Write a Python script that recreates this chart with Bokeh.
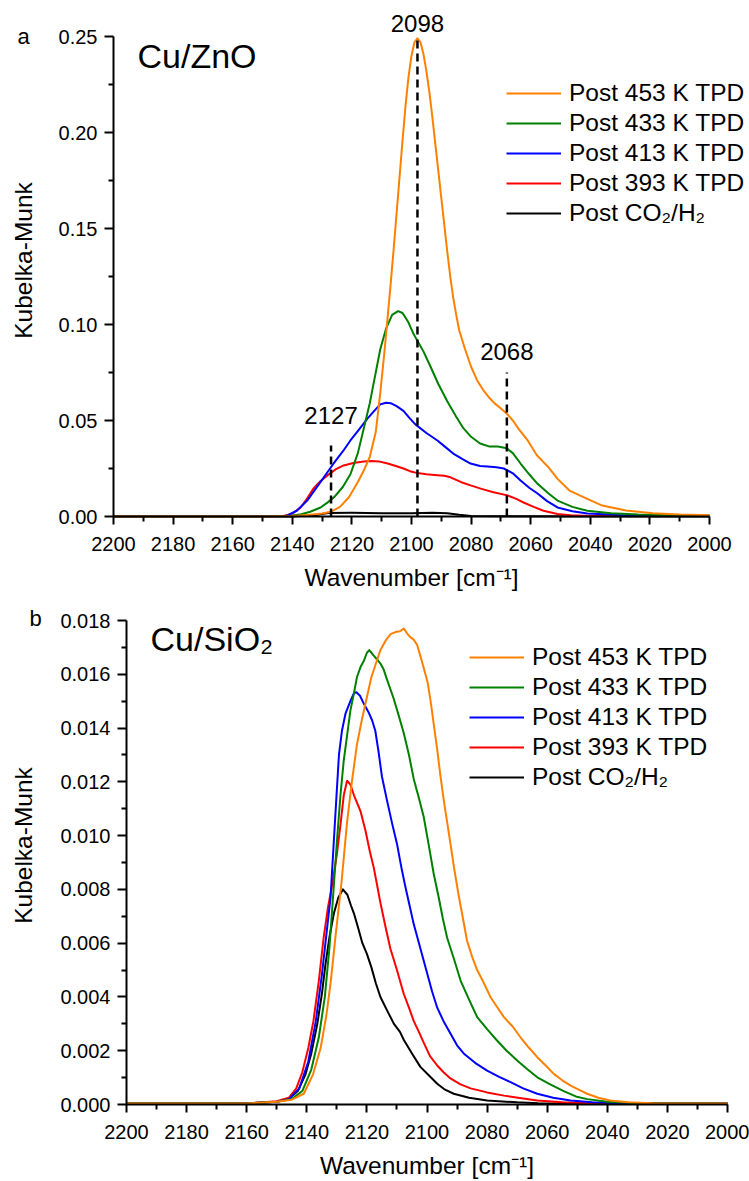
import math

from bokeh.plotting import figure
from bokeh.layouts import column
from bokeh.models import (Range1d, FixedTicker, NumeralTickFormatter, Legend,
                          LegendItem, Label)
from bokeh.embed import file_html
from bokeh.resources import INLINE

FONT = "Liberation Sans"

# ---- axis ticks -------------------------------------------------------------
x_major_ticks = [2200, 2180, 2160, 2140, 2120, 2100, 2080, 2060, 2040, 2020, 2000]
x_minor_ticks = [2190, 2170, 2150, 2130, 2110, 2090, 2070, 2050, 2030, 2010]
a_y_ticks = [0.00, 0.05, 0.10, 0.15, 0.20, 0.25]
a_y_minor = [0.025, 0.075, 0.125, 0.175, 0.225]
b_y_ticks = [0.000, 0.002, 0.004, 0.006, 0.008, 0.010, 0.012, 0.014, 0.016, 0.018]
b_y_minor = [0.001, 0.003, 0.005, 0.007, 0.009, 0.011, 0.013, 0.015, 0.017]

series_labels = ["Post 453 K TPD", "Post 433 K TPD", "Post 413 K TPD",
                 "Post 393 K TPD", "Post CO\u2082/H\u2082"]
series_colors = ["#FF8000", "#008000", "#0000FF", "#FF0000", "#000000"]

# ---- (a) Cu/ZnO spectra -------------------------------------------------------
a453_w = [2200, 2150, 2140, 2135, 2130, 2127, 2124, 2121, 2118, 2116, 2114, 2112,
          2110.5, 2109, 2108, 2107, 2106, 2105, 2104, 2103, 2102, 2101, 2100, 2099,
          2098, 2097, 2096, 2095, 2094, 2093, 2092, 2091, 2090, 2089, 2088, 2087,
          2086, 2085, 2084, 2082, 2080, 2078, 2076, 2074, 2072, 2070, 2068, 2066,
          2064, 2061, 2058, 2054, 2051, 2047, 2041, 2036, 2028, 2019, 2010, 2000]
a453_v = [0, 0, 0.0003, 0.0008, 0.0016, 0.0025, 0.005, 0.010, 0.018, 0.024, 0.031,
          0.044, 0.064, 0.087, 0.104, 0.121, 0.139, 0.158, 0.177, 0.196, 0.214, 0.229,
          0.240, 0.247, 0.249, 0.247, 0.241, 0.232, 0.221, 0.208, 0.194, 0.180, 0.166,
          0.152, 0.138, 0.125, 0.114, 0.105, 0.097, 0.087, 0.078, 0.071, 0.066, 0.062,
          0.0588, 0.0563, 0.0535, 0.0500, 0.0455, 0.0396, 0.032, 0.0256, 0.0196,
          0.0135, 0.0092, 0.0057, 0.0031, 0.0017, 0.001, 0.0006]

a433_w = [2200, 2150, 2141, 2137, 2134, 2130.5, 2128, 2126, 2123, 2120.5, 2118, 2116,
          2114, 2112.5, 2110.5, 2108.5, 2106.5, 2104.5, 2103, 2101, 2099.3, 2096,
          2093.6, 2091, 2088, 2085, 2082.6, 2080, 2077, 2074, 2071, 2068, 2066,
          2063.4, 2060.5, 2057.7, 2054, 2051, 2046, 2041, 2033, 2024, 2012, 2000]
a433_v = [0, 0, 0.0003, 0.0012, 0.0025, 0.0047, 0.0075, 0.010, 0.0155, 0.022, 0.033,
          0.046, 0.059, 0.071, 0.087, 0.098, 0.105, 0.107, 0.106, 0.101, 0.095, 0.086,
          0.078, 0.069, 0.060, 0.052, 0.046, 0.0415, 0.038, 0.0365, 0.0365, 0.0355,
          0.033, 0.0276, 0.022, 0.017, 0.012, 0.0083, 0.005, 0.003, 0.0017, 0.001,
          0.0007, 0.0005]

a413_w = [2200, 2150, 2142, 2138.5, 2135, 2130.5, 2126.2, 2123, 2120.5, 2117.5, 2114.8,
          2112.5, 2110.4, 2108.5, 2107, 2105, 2102.7, 2100.5, 2098.7, 2095, 2091.3,
          2088.5, 2086, 2083, 2080.2, 2077, 2074.5, 2071.5, 2069, 2066, 2063.4, 2060.5,
          2057.7, 2054.5, 2051, 2046, 2041, 2030, 2015, 2000]
a413_v = [0, 0, 0.0003, 0.003, 0.0083, 0.018, 0.0275, 0.034, 0.0396, 0.0455, 0.051,
          0.055, 0.0585, 0.0592, 0.059, 0.0575, 0.055, 0.051, 0.048, 0.0435, 0.0396,
          0.036, 0.0328, 0.030, 0.0276, 0.0263, 0.026, 0.0256, 0.025, 0.0225, 0.0188,
          0.015, 0.012, 0.008, 0.0047, 0.0027, 0.0016, 0.0008, 0.0005, 0.0004]

a393_w = [2200, 2150, 2143, 2140, 2137.2, 2135, 2132.9, 2130.5, 2128.2, 2125.5, 2122.8,
          2119.5, 2116, 2113.5, 2111, 2108, 2105, 2102.7, 2100.5, 2098, 2095, 2091.3,
          2089, 2086.9, 2083.5, 2080.2, 2076.5, 2072.5, 2067.8, 2065, 2062.4, 2059,
          2055.7, 2051, 2046.6, 2040, 2000]
a393_v = [0, 0, 0.0003, 0.0015, 0.0047, 0.0095, 0.0146, 0.0185, 0.0214, 0.0245, 0.0266,
          0.0279, 0.0286, 0.0289, 0.0287, 0.0276, 0.0262, 0.025, 0.0236, 0.0226, 0.022,
          0.0215, 0.0212, 0.0204, 0.018, 0.0162, 0.0144, 0.0126, 0.011, 0.0093, 0.0073,
          0.005, 0.003, 0.0013, 0.0006, 0.0003, 0.0002]

aco2_w = [2200, 2140, 2132, 2128, 2120, 2110, 2100, 2093, 2088, 2084, 2080, 2070, 2000]
aco2_v = [0, 0, 0.0008, 0.0018, 0.0019, 0.0017, 0.0017, 0.0019, 0.0017, 0.0009,
          0.0003, 0.0001, 0.0]

# ---- (b) Cu/SiO2 spectra ------------------------------------------------------
b453_w = [2200, 2160, 2150, 2145, 2141, 2138, 2135.4, 2133.5, 2132, 2130.5, 2129.5,
          2128.5, 2126.6, 2125, 2123.3, 2121.5, 2119.9, 2118.5, 2117, 2115.5, 2113.5,
          2112, 2110.5, 2109, 2107.7, 2106.5, 2105.5, 2104.5, 2103.3, 2102, 2101,
          2099.8, 2098.8, 2097.7, 2096.6, 2095.5, 2094.4, 2093.3, 2092.2, 2091, 2089.5,
          2088, 2086.7, 2085, 2083.3, 2081, 2078.9, 2076.5, 2074.4, 2071.5, 2068.9,
          2066, 2063.3, 2060.5, 2057.8, 2055, 2052.2, 2049.5, 2046.7, 2043, 2039, 2033,
          2025, 2000]
b453_v = [0.00004, 0.00004, 0.0001, 0.00018, 0.0004, 0.0011, 0.0021, 0.0033, 0.0046,
          0.0062, 0.0072, 0.0082, 0.0105, 0.0120, 0.0134, 0.0144, 0.0152, 0.0159,
          0.0164, 0.0169, 0.0173, 0.0175, 0.01757, 0.0176, 0.0177, 0.0175, 0.01737,
          0.0173, 0.0171, 0.0166, 0.0162, 0.0157, 0.0150, 0.0141, 0.0132, 0.0122,
          0.0113, 0.0105, 0.0097, 0.0088, 0.0078, 0.0069, 0.0061, 0.0055, 0.0050,
          0.0045, 0.0040, 0.0036, 0.00325, 0.0029, 0.0025, 0.0021, 0.00176, 0.00145,
          0.00114, 0.0009, 0.0007, 0.00055, 0.0004, 0.00025, 0.00015, 0.00008,
          0.00005, 0.00004]

b433_w = [2200, 2160, 2150, 2145, 2141.5, 2138.5, 2136, 2134, 2132.5, 2131.6, 2129.9,
          2128.8, 2127.7, 2126.5, 2125.5, 2124.3, 2123.3, 2122, 2121, 2120, 2119.2,
          2117.8, 2116.6, 2115.5, 2114.5, 2113.3, 2111.1, 2109.5, 2107.7, 2106, 2104.4,
          2102.7, 2101.1, 2099.5, 2097.8, 2096.1, 2094.7, 2093.3, 2091, 2088.8, 2086,
          2083.3, 2080, 2076.7, 2073.5, 2070, 2066.5, 2063.3, 2059, 2054.5, 2050.5,
          2046.7, 2040, 2030, 2000]
b433_v = [0.00004, 0.00004, 0.0001, 0.0002, 0.0005, 0.0013, 0.0025, 0.0040, 0.0058,
          0.0072, 0.0099, 0.0115, 0.0128, 0.0138, 0.01465, 0.0153, 0.0159, 0.0163,
          0.0165, 0.0168, 0.0169, 0.0167, 0.01655, 0.0164, 0.0162, 0.0158, 0.0151,
          0.0145, 0.0138, 0.0130, 0.0121, 0.0114, 0.0107, 0.0097, 0.0086, 0.0077,
          0.0069, 0.0062, 0.0054, 0.0046, 0.0039, 0.00325, 0.0028, 0.00238, 0.0020,
          0.00164, 0.0013, 0.00101, 0.00075, 0.0005, 0.0003, 0.0002, 0.0001, 0.00005,
          0.00004]

b413_w = [2200, 2160, 2150, 2146, 2142.5, 2139.5, 2137, 2135, 2133.5, 2132.1, 2131,
          2130, 2129.3, 2128.3, 2127.1, 2125.5, 2124.3, 2123.5, 2122.3, 2121, 2119.5,
          2118.3, 2117.2, 2116.1, 2115, 2113.3, 2111.5, 2110, 2108.5, 2107.2, 2105.8,
          2104.4, 2102.2, 2100, 2098.3, 2096.6, 2094.5, 2092.2, 2090, 2087.8, 2084,
          2080, 2076, 2072.2, 2068, 2063.3, 2058, 2052.2, 2045, 2035, 2000]
b413_v = [0.00004, 0.00004, 0.0001, 0.0002, 0.0006, 0.0016, 0.0031, 0.0048, 0.0063,
          0.0077, 0.0098, 0.0117, 0.0130, 0.0139, 0.01455, 0.0150, 0.0153, 0.01533,
          0.0152, 0.0149, 0.0146, 0.0143, 0.0139, 0.0131, 0.0122, 0.0113, 0.0104,
          0.0097, 0.0088, 0.0081, 0.0074, 0.0067, 0.0058, 0.0049, 0.0042, 0.0036,
          0.0031, 0.00264, 0.0022, 0.0019, 0.00155, 0.00126, 0.00103, 0.00083, 0.0006,
          0.0004, 0.00025, 0.00015, 0.00008, 0.00005, 0.00004]

b393_w = [2200, 2160, 2150, 2146, 2143.5, 2141.5, 2139.5, 2137.8, 2136, 2134.4, 2133,
          2131.5, 2130, 2128.8, 2127.7, 2126.6, 2125.5, 2124.3, 2123.2, 2122.1, 2120.5,
          2119, 2117.7, 2116.5, 2115.5, 2113.8, 2112.2, 2110, 2107.7, 2106, 2104.4,
          2102.7, 2101.1, 2099, 2096.6, 2094.5, 2092.2, 2089, 2085.5, 2080, 2074.4,
          2068, 2063.3, 2055, 2045, 2000]
b393_v = [0.00004, 0.00004, 0.00012, 0.00025, 0.0006, 0.0012, 0.0021, 0.0031, 0.0046,
          0.0062, 0.0073, 0.0082, 0.0093, 0.0104, 0.0115, 0.01204, 0.0119, 0.0115,
          0.0112, 0.0109, 0.0102, 0.0094, 0.0088, 0.0081, 0.0075, 0.0066, 0.0058,
          0.0050, 0.0041, 0.0036, 0.0031, 0.0027, 0.0023, 0.0018, 0.00145, 0.0012,
          0.00097, 0.00076, 0.0006, 0.00045, 0.00033, 0.00022, 0.00015, 0.00008,
          0.00005, 0.00004]

bco2_w = [2200, 2160, 2150, 2146, 2143, 2140.5, 2138.5, 2136.5, 2135, 2133.8, 2132.5,
          2131, 2129.5, 2128, 2126.5, 2125.3, 2124.3, 2123, 2121.5, 2120, 2118.5, 2117,
          2115.5, 2113.3, 2111, 2109, 2107.7, 2105, 2102.2, 2099.5, 2096.6, 2094, 2091.1,
          2086, 2080, 2070, 2063, 2000]
bco2_v = [0.00004, 0.00004, 0.0001, 0.0002, 0.0005, 0.0011, 0.0019, 0.0030, 0.0041,
          0.0052, 0.0062, 0.0071, 0.0077, 0.0080, 0.0078, 0.0074, 0.0071, 0.0066,
          0.0060, 0.0056, 0.0051, 0.0045, 0.0040, 0.0035, 0.0030, 0.0027, 0.0024,
          0.0019, 0.0014, 0.0011, 0.00077, 0.00055, 0.0004, 0.00025, 0.00015, 0.00008,
          0.00005, 0.00004]

# ---- marked band positions in (a) -----------------------------------------------
band_positions = [2127, 2098, 2068]
band_tops = [0.037, 0.249, 0.075]

X_START, X_END = 2200, 2000


class Panel:
    """Canvas of a panel whose plotting box spans the whole canvas; the axes are
    pinned to the data edges so that outer texts stay inside the drawable area."""

    def __init__(self, width, height, left, right, top, bottom, y_end):
        self.sx = (right - left) / (X_START - X_END)
        self.sy = (bottom - top) / y_end
        self.left, self.top, self.bottom, self.height = left, top, bottom, height
        x_range = Range1d(X_START + left / self.sx, X_END - (width - right) / self.sx)
        y_range = Range1d(-(height - bottom) / self.sy, y_end + top / self.sy)
        self.p = figure(width=width, height=height, x_range=x_range, y_range=y_range,
                        min_border=0, output_backend="svg", toolbar_location=None,
                        background_fill_color="white", border_fill_color="white")
        self.y_end = y_end

    def x_at(self, px):
        return X_START - (px - self.left) / self.sx

    def y_at(self, py):
        return (self.bottom - py) / self.sy


def style_axes(panel, y_fmt, y_ticks, y_minor):
    p = panel.p
    p.xaxis.fixed_location = 0
    p.xaxis.bounds = (X_END, X_START)
    p.yaxis.fixed_location = X_START
    p.yaxis.bounds = (0, panel.y_end)
    p.xaxis.ticker = FixedTicker(ticks=x_major_ticks, minor_ticks=x_minor_ticks)
    p.yaxis.ticker = FixedTicker(ticks=y_ticks, minor_ticks=y_minor)
    p.yaxis.formatter = NumeralTickFormatter(format=y_fmt)
    p.xaxis.formatter = NumeralTickFormatter(format="0")
    for ax in (p.xaxis[0], p.yaxis[0]):
        ax.axis_line_width = 2
        ax.axis_line_color = "black"
        ax.major_tick_line_width = 2
        ax.minor_tick_line_width = 2
        ax.major_tick_line_color = "black"
        ax.minor_tick_line_color = "black"
        ax.major_tick_in = 0
        ax.minor_tick_in = 0
        ax.major_label_text_font = FONT
        ax.major_label_text_font_size = "20px"
        ax.major_label_text_color = "black"
        ax.axis_label_text_font = FONT
        ax.axis_label_text_font_size = "24.5px"
        ax.axis_label_text_font_style = "normal"
        ax.axis_label_text_color = "black"
    p.xaxis.major_tick_out = 8
    p.xaxis.minor_tick_out = 5
    p.yaxis.major_tick_out = 9
    p.yaxis.minor_tick_out = 5
    p.xaxis.major_label_standoff = 12
    p.yaxis.major_label_standoff = 7
    p.xaxis.axis_label_standoff = 10
    p.xaxis.axis_label = "Wavenumber [cm\u207b\u00b9]"
    p.grid.visible = False
    p.outline_line_color = None


def draw_series(panel, series, legend_left, legend_first_row):
    p = panel.p
    renderers = []
    # draw the weakest spectrum first so the strongest one sits on top
    for (w, v), color in reversed(list(zip(series, series_colors))):
        r = p.line(w, v, line_color=color, line_width=2, line_join="round")
        renderers.append(r)
    renderers = renderers[::-1]
    items = [LegendItem(label=lab, renderers=[r]) for lab, r in zip(series_labels, renderers)]
    row_h = 30
    legend_bottom = panel.height - (legend_first_row - row_h / 2 + row_h * len(items))
    legend = Legend(items=items, location=(legend_left, legend_bottom),
                    glyph_width=55, glyph_height=row_h, label_height=row_h,
                    label_standoff=8, spacing=0, padding=0, margin=0,
                    border_line_color=None, background_fill_alpha=0,
                    label_text_font=FONT, label_text_font_size="24.5px",
                    label_text_color="black")
    p.add_layout(legend)


def text_label(x, y, text, size, align="left", y_offset=0, angle=0.0):
    return Label(x=x, y=y, text=text, text_font=FONT, text_font_size=size,
                 text_color="black", text_align=align, text_baseline="middle",
                 y_offset=y_offset, angle=angle)


def y_title(panel, py):
    # vertical axis title, set a little above the middle of the value axis
    panel.p.add_layout(text_label(panel.x_at(22.5), panel.y_at(py), "Kubelka-Munk",
                                  "24.5px", align="center", angle=math.pi / 2))


# ---- panel (a) ------------------------------------------------------------------
A = Panel(749, 600, left=113, right=709, top=36, bottom=516, y_end=0.25)
style_axes(A, "0.00", a_y_ticks, a_y_minor)
y_title(A, 260)
draw_series(A, [(a453_w, a453_v), (a433_w, a433_v), (a413_w, a413_v),
                (a393_w, a393_v), (aco2_w, aco2_v)], legend_left=506, legend_first_row=93)
A.p.segment(x0=band_positions, y0=[0] * len(band_positions), x1=band_positions,
            y1=band_tops, line_color="black", line_width=2.5, line_dash="8 5")
for pos, top, off in zip(band_positions, band_tops, [29.5, 14.5, 21.5]):
    A.p.add_layout(text_label(pos, top, str(pos), "24px", align="center", y_offset=off))
A.p.add_layout(text_label(A.x_at(137), A.y_at(55.5), "Cu/ZnO", "34px"))
A.p.add_layout(text_label(A.x_at(17), A.y_at(35.5), "a", "22px"))

# ---- panel (b) ------------------------------------------------------------------
B = Panel(749, 581, left=126, right=727, top=20, bottom=504, y_end=0.018)
style_axes(B, "0.000", b_y_ticks, b_y_minor)
y_title(B, 845 - 600)
draw_series(B, [(b453_w, b453_v), (b433_w, b433_v), (b413_w, b413_v),
                (b393_w, b393_v), (bco2_w, bco2_v)], legend_left=469, legend_first_row=57)
B.p.add_layout(text_label(B.x_at(150), B.y_at(38), "Cu/SiO\u2082", "34px"))
B.p.add_layout(text_label(B.x_at(29), B.y_at(17.5), "b", "22px"))

layout = column(A.p, B.p, spacing=0)
open("out.html", "w").write(file_html(layout, INLINE))
